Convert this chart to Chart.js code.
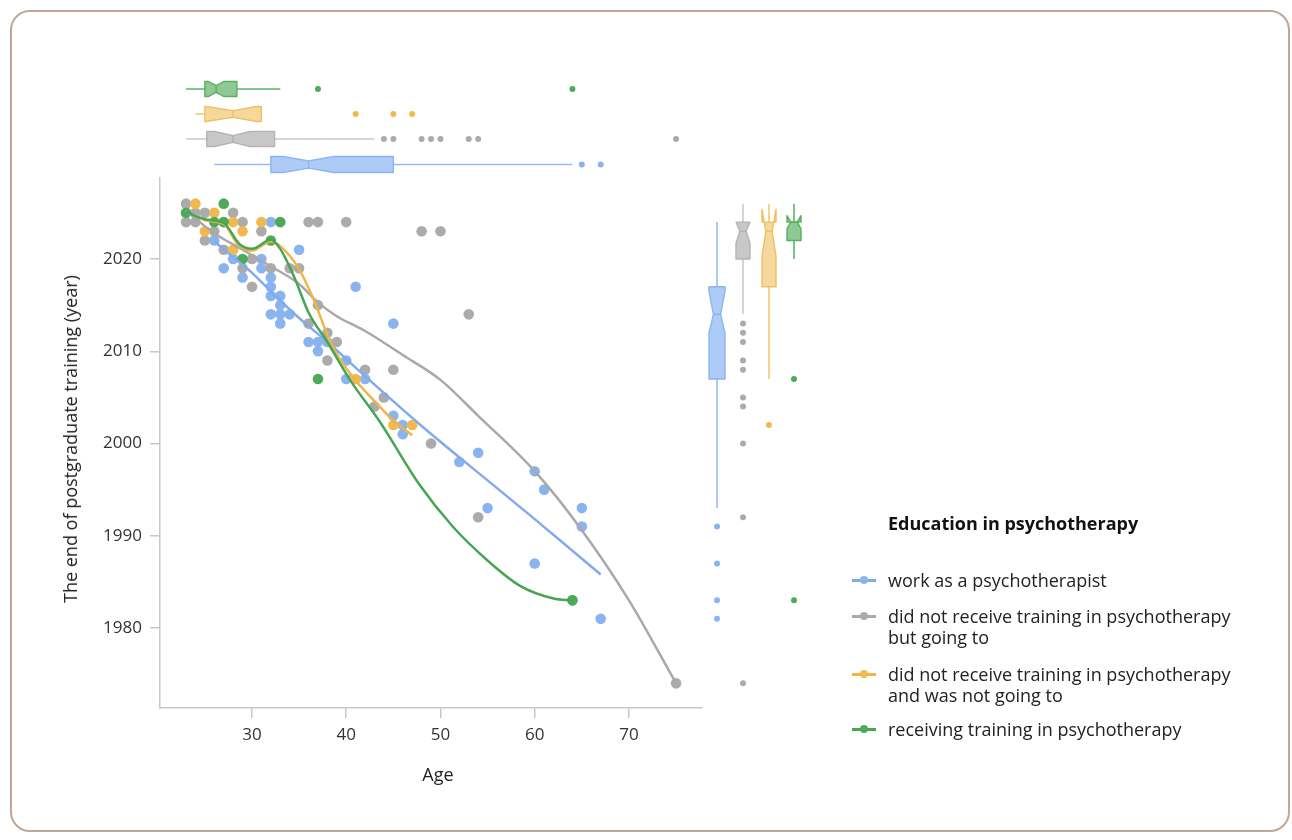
<!DOCTYPE html>
<html><head><meta charset="utf-8">
<script src="https://cdn.jsdelivr.net/npm/chart.js@4.4.1/dist/chart.umd.min.js"></script>
<style>
html,body{margin:0;padding:0;background:#fff;width:1292px;height:840px;overflow:hidden;font-family:'Open Sans',sans-serif;color:#222}
#card{position:absolute;left:10px;top:10px;width:1280px;height:822px;border:2px solid #c2a696;border-radius:20px;box-sizing:border-box}
#wrap{position:absolute;left:0;top:0;width:1292px;height:840px}
.ytitle{position:absolute;left:70px;top:439px;transform:translate(-50%,-50%) rotate(-90deg);white-space:nowrap;font-size:18px;color:#222}
.xtitle{position:absolute;left:438px;top:774px;transform:translate(-50%,-50%);font-size:18px;color:#222}
.lgtitle{position:absolute;left:888px;top:511px;font-size:18px;font-weight:700;color:#111}
.li{position:absolute;left:888px;font-size:18px;line-height:21px;color:#222;white-space:nowrap}
.mk{position:absolute;left:-36px;top:9.5px;width:24px;height:2.5px}
.mk i{position:absolute;left:8px;top:-2.8px;width:8px;height:8px;border-radius:50%}
</style></head>
<body>
<div id="card"></div>
<div id="wrap"><canvas id="c" width="1292" height="840"></canvas></div>
<div class="ytitle">The end of postgraduate training (year)</div>
<div class="xtitle">Age</div>
<div class="lgtitle">Education in psychotherapy</div>
<div id="legend"></div>
<script>
// ---------- data ----------
const groupNames = ["work as a psychotherapist","did not receive training in psychotherapy\nbut going to","did not receive training in psychotherapy\nand was not going to","receiving training in psychotherapy"];

const workAge  = [32,26,35,28,31,27,31,29,32,32,41,32,33,33,32,33,34,33,45,36,37,38,37,40,40,42,45,46,46,54,52,60,61,55,65,65,60,64,67];
const workYear = [2024,2022,2021,2020,2020,2019,2019,2018,2018,2017,2017,2016,2016,2015,2014,2014,2014,2013,2013,2011,2011,2011,2010,2009,2007,2007,2003,2002,2001,1999,1998,1997,1995,1993,1993,1991,1987,1983,1981];

const goingAge  = [23,24,25,28,23,24,29,36,37,40,26,31,48,50,25,27,30,29,32,34,35,30,37,53,36,38,39,38,42,45,44,43,49,54,75];
const goingYear = [2026,2025,2025,2025,2024,2024,2024,2024,2024,2024,2023,2023,2023,2023,2022,2021,2020,2019,2019,2019,2019,2017,2015,2014,2013,2012,2011,2009,2008,2008,2005,2004,2000,1992,1974];

const notGoingAge  = [24,26,28,31,25,29,28,41,45,47];
const notGoingYear = [2026,2025,2024,2024,2023,2023,2021,2007,2002,2002];

const trainingAge  = [23,27,26,27,33,29,32,37,64];
const trainingYear = [2025,2026,2024,2024,2024,2020,2022,2007,1983];

// smoothed trend curves
const workFitAge  = [26,28,30,32,35,38,42,48,55,60,67];
const workFitYear = [2021.9,2020.2,2018.5,2016.5,2013.6,2011.0,2007.3,2001.9,1996.0,1991.8,1985.8];
const goingFitAge  = [23,26,29,32,35,37,39,42,46,50,54,60,65,70,75];
const goingFitYear = [2025.2,2022.8,2021.0,2019.2,2017.3,2015.3,2013.8,2012.2,2009.6,2006.9,2003.0,1997.0,1990.6,1983.0,1974.0];
const notGoingFitAge  = [24,25,27,28.5,30,32,33,35,36.5,38.5,40.7,43,45,47];
const notGoingFitYear = [2024.8,2024.2,2023.8,2021.6,2020.9,2021.9,2021.4,2018.9,2015.7,2010.6,2007.2,2004.6,2002.5,2000.9];
const trainingFitAge  = [23,25,27,28.7,30,32,33,34.5,36,38,40.4,43.6,47.8,51.3,54.9,58.4,62,64];
const trainingFitYear = [2025.1,2024.3,2023.9,2021.6,2021.1,2022.1,2021.1,2018.0,2014.2,2011.0,2006.9,2002.3,1995.5,1991.0,1987.4,1984.6,1983.2,1983.0];

// marginal box plots: [whiskerLow, q1, median, q3, whiskerHigh, notchLow, notchHigh]
const workAgeBox      = [26, 32, 36, 45, 64, 33.3, 38.7];
const goingAgeBox     = [23, 25.2, 28, 32.4, 43, 26, 29.8];
const notGoingAgeBox  = [24, 25, 28, 31, 31, 25.1, 30.5];
const trainingAgeBox  = [23, 25, 26.2, 28.4, 33, 25.4, 27.0];
const workAgeOut      = [65, 67];
const goingAgeOut     = [44, 45, 48, 49, 50, 53, 54, 75];
const notGoingAgeOut  = [41, 45, 47];
const trainingAgeOut  = [37, 64];

const workYearBox     = [1993, 2007, 2014, 2017, 2024, 2012, 2016.5];
const goingYearBox    = [2014, 2020, 2023, 2024, 2026, 2021.7, 2024];
const notGoingYearBox = [2007, 2017, 2023, 2024, 2026, 2020.3, 2025.4];
const trainingYearBox = [2020, 2022, 2024, 2024, 2026, 2023.3, 2024.7];
const workYearOut     = [1991, 1987, 1983, 1981];
const goingYearOut    = [2013, 2012, 2011, 2009, 2008, 2005, 2004, 2000, 1992, 1974];
const notGoingYearOut = [2002];
const trainingYearOut = [2007, 1983];

const xTicks = [30, 40, 50, 60, 70];
const yTicks = [1980, 1990, 2000, 2010, 2020];

// ---------- styles ----------
const pointCol = ['#8ab4f0', '#ababab', '#f1b94f', '#4dab57'];
const lineCol  = ['#80abee', '#a9a9a9', '#efb548', '#48a553'];
const boxFill  = ['rgba(150,189,243,0.78)', 'rgba(190,190,190,0.85)', 'rgba(244,208,140,0.85)', 'rgba(122,192,128,0.85)'];
const boxLine  = ['#8cb5f0', '#b4b4b4', '#efc061', '#58b061'];
const whiskCol = ['#96bcf2', '#cacaca', '#f3c87a', '#5db566'];

const groups = [
  {age: workAge, year: workYear, fa: workFitAge, fy: workFitYear, ab: workAgeBox, ao: workAgeOut, yb: workYearBox, yo: workYearOut},
  {age: goingAge, year: goingYear, fa: goingFitAge, fy: goingFitYear, ab: goingAgeBox, ao: goingAgeOut, yb: goingYearBox, yo: goingYearOut},
  {age: notGoingAge, year: notGoingYear, fa: notGoingFitAge, fy: notGoingFitYear, ab: notGoingAgeBox, ao: notGoingAgeOut, yb: notGoingYearBox, yo: notGoingYearOut},
  {age: trainingAge, year: trainingYear, fa: trainingFitAge, fy: trainingFitYear, ab: trainingAgeBox, ao: trainingAgeOut, yb: trainingYearBox, yo: trainingYearOut}
];

const topRowY   = [164.5, 139, 114, 89];
const topHalfH  = [8, 7.5, 7.5, 7.5];
const rightColX = [717, 743, 769, 794];
const rightHalfW= [8, 7, 7, 7];

const datasets = [];
const lineOrder = [4, 3, 2, 1];
groups.forEach((g, i) => {
  datasets.push({
    label: 'pts' + i,
    data: g.age.map((a, k) => ({x: a, y: g.year[k]})),
    backgroundColor: pointCol[i], borderWidth: 0, pointRadius: 5.3, pointHoverRadius: 5.3,
    showLine: false, order: 20 - i
  });
});
groups.forEach((g, i) => {
  datasets.push({
    label: 'fit' + i,
    data: g.fa.map((a, k) => ({x: a, y: g.fy[k]})),
    borderColor: lineCol[i], borderWidth: 2.5, pointRadius: 0, showLine: true,
    cubicInterpolationMode: 'monotone', fill: false, order: lineOrder[i]
  });
});

const marginPlugin = {
  id: 'margins',
  afterDraw(chart) {
    const ctx = chart.ctx, xs = chart.scales.x, ys = chart.scales.y;
    ctx.save();
    groups.forEach((g, i) => {
      // top (age) box
      const X = v => xs.getPixelForValue(v);
      const cy = topRowY[i], h = topHalfH[i];
      const [wl, q1, md, q3, wh, nl, nh] = g.ab;
      ctx.strokeStyle = whiskCol[i]; ctx.lineWidth = 1.6;
      ctx.beginPath(); ctx.moveTo(X(wl), cy); ctx.lineTo(X(q1), cy); ctx.moveTo(X(q3), cy); ctx.lineTo(X(wh), cy); ctx.stroke();
      ctx.beginPath();
      ctx.moveTo(X(q1), cy - h); ctx.lineTo(X(nl), cy - h); ctx.lineTo(X(md), cy - h * 0.45); ctx.lineTo(X(nh), cy - h); ctx.lineTo(X(q3), cy - h);
      ctx.lineTo(X(q3), cy + h); ctx.lineTo(X(nh), cy + h); ctx.lineTo(X(md), cy + h * 0.45); ctx.lineTo(X(nl), cy + h); ctx.lineTo(X(q1), cy + h);
      ctx.closePath();
      ctx.fillStyle = boxFill[i]; ctx.fill();
      ctx.strokeStyle = boxLine[i]; ctx.lineWidth = 1.4; ctx.lineJoin = 'round'; ctx.stroke();
      ctx.beginPath(); ctx.moveTo(X(md), cy - h * 0.45); ctx.lineTo(X(md), cy + h * 0.45); ctx.stroke();
      ctx.fillStyle = pointCol[i];
      g.ao.forEach(v => { ctx.beginPath(); ctx.arc(X(v), cy, 3, 0, Math.PI * 2); ctx.fill(); });

      // right (year) box
      const Y = v => ys.getPixelForValue(v);
      const cx = rightColX[i], w = rightHalfW[i];
      const [vl, p1, pm, p3, vh, ml, mh] = g.yb;
      ctx.strokeStyle = whiskCol[i]; ctx.lineWidth = 1.6;
      ctx.beginPath(); ctx.moveTo(cx, Y(vl)); ctx.lineTo(cx, Y(p1)); ctx.moveTo(cx, Y(p3)); ctx.lineTo(cx, Y(vh)); ctx.stroke();
      ctx.beginPath();
      ctx.moveTo(cx - w, Y(p1)); ctx.lineTo(cx - w, Y(ml)); ctx.lineTo(cx - w * 0.45, Y(pm)); ctx.lineTo(cx - w, Y(mh)); ctx.lineTo(cx - w, Y(p3));
      ctx.lineTo(cx + w, Y(p3)); ctx.lineTo(cx + w, Y(mh)); ctx.lineTo(cx + w * 0.45, Y(pm)); ctx.lineTo(cx + w, Y(ml)); ctx.lineTo(cx + w, Y(p1));
      ctx.closePath();
      ctx.fillStyle = boxFill[i]; ctx.fill();
      ctx.strokeStyle = boxLine[i]; ctx.lineWidth = 1.4; ctx.stroke();
      ctx.beginPath(); ctx.moveTo(cx - w * 0.45, Y(pm)); ctx.lineTo(cx + w * 0.45, Y(pm)); ctx.stroke();
      ctx.fillStyle = pointCol[i];
      g.yo.forEach(v => { ctx.beginPath(); ctx.arc(cx, Y(v), 3, 0, Math.PI * 2); ctx.fill(); });
    });
    ctx.restore();
  }
};

const tickFont = {family: "'Open Sans', sans-serif", size: 17};
new Chart(document.getElementById('c'), {
  type: 'scatter',
  data: {datasets},
  options: {
    responsive: false, animation: false, events: [],
    layout: {padding: {left: 10, top: 178, right: 590, bottom: 42}},
    plugins: {legend: {display: false}, tooltip: {enabled: false}},
    scales: {
      x: {
        type: 'linear', min: 20.24, max: 77.75,
        afterFit: s => { s.height = 90; },
        afterBuildTicks: s => { s.ticks = xTicks.map(v => ({value: v})); },
        ticks: {font: tickFont, color: '#333', padding: 7, includeBounds: false, callback: v => String(v)},
        grid: {drawOnChartArea: false, drawTicks: true, tickLength: 10, color: '#c8c8c8', lineWidth: 1.5},
        border: {display: true, color: '#c8c8c8', width: 1.5}
      },
      y: {
        type: 'linear', min: 1971.33, max: 2028.78,
        afterFit: s => { s.width = 150; },
        afterBuildTicks: s => { s.ticks = yTicks.map(v => ({value: v})); },
        ticks: {font: tickFont, color: '#333', padding: 8, includeBounds: false, callback: v => String(v)},
        grid: {drawOnChartArea: false, drawTicks: true, tickLength: 10, color: '#c8c8c8', lineWidth: 1.5},
        border: {display: true, color: '#c8c8c8', width: 1.5}
      }
    }
  },
  plugins: [marginPlugin]
});

// legend (HTML)
const legendTops = [569.5, 605.5, 663.5, 718.5];
const lg = document.getElementById('legend');
groupNames.forEach((n, i) => {
  const d = document.createElement('div');
  d.className = 'li';
  d.style.top = legendTops[i] + 'px';
  const mk = document.createElement('span');
  mk.className = 'mk'; mk.style.background = lineCol[i];
  const dot = document.createElement('i'); dot.style.background = pointCol[i];
  mk.appendChild(dot);
  d.appendChild(mk);
  n.split('\n').forEach((t, k) => {
    if (k) d.appendChild(document.createElement('br'));
    d.appendChild(document.createTextNode(t));
  });
  lg.appendChild(d);
});
</script>
</body></html>
